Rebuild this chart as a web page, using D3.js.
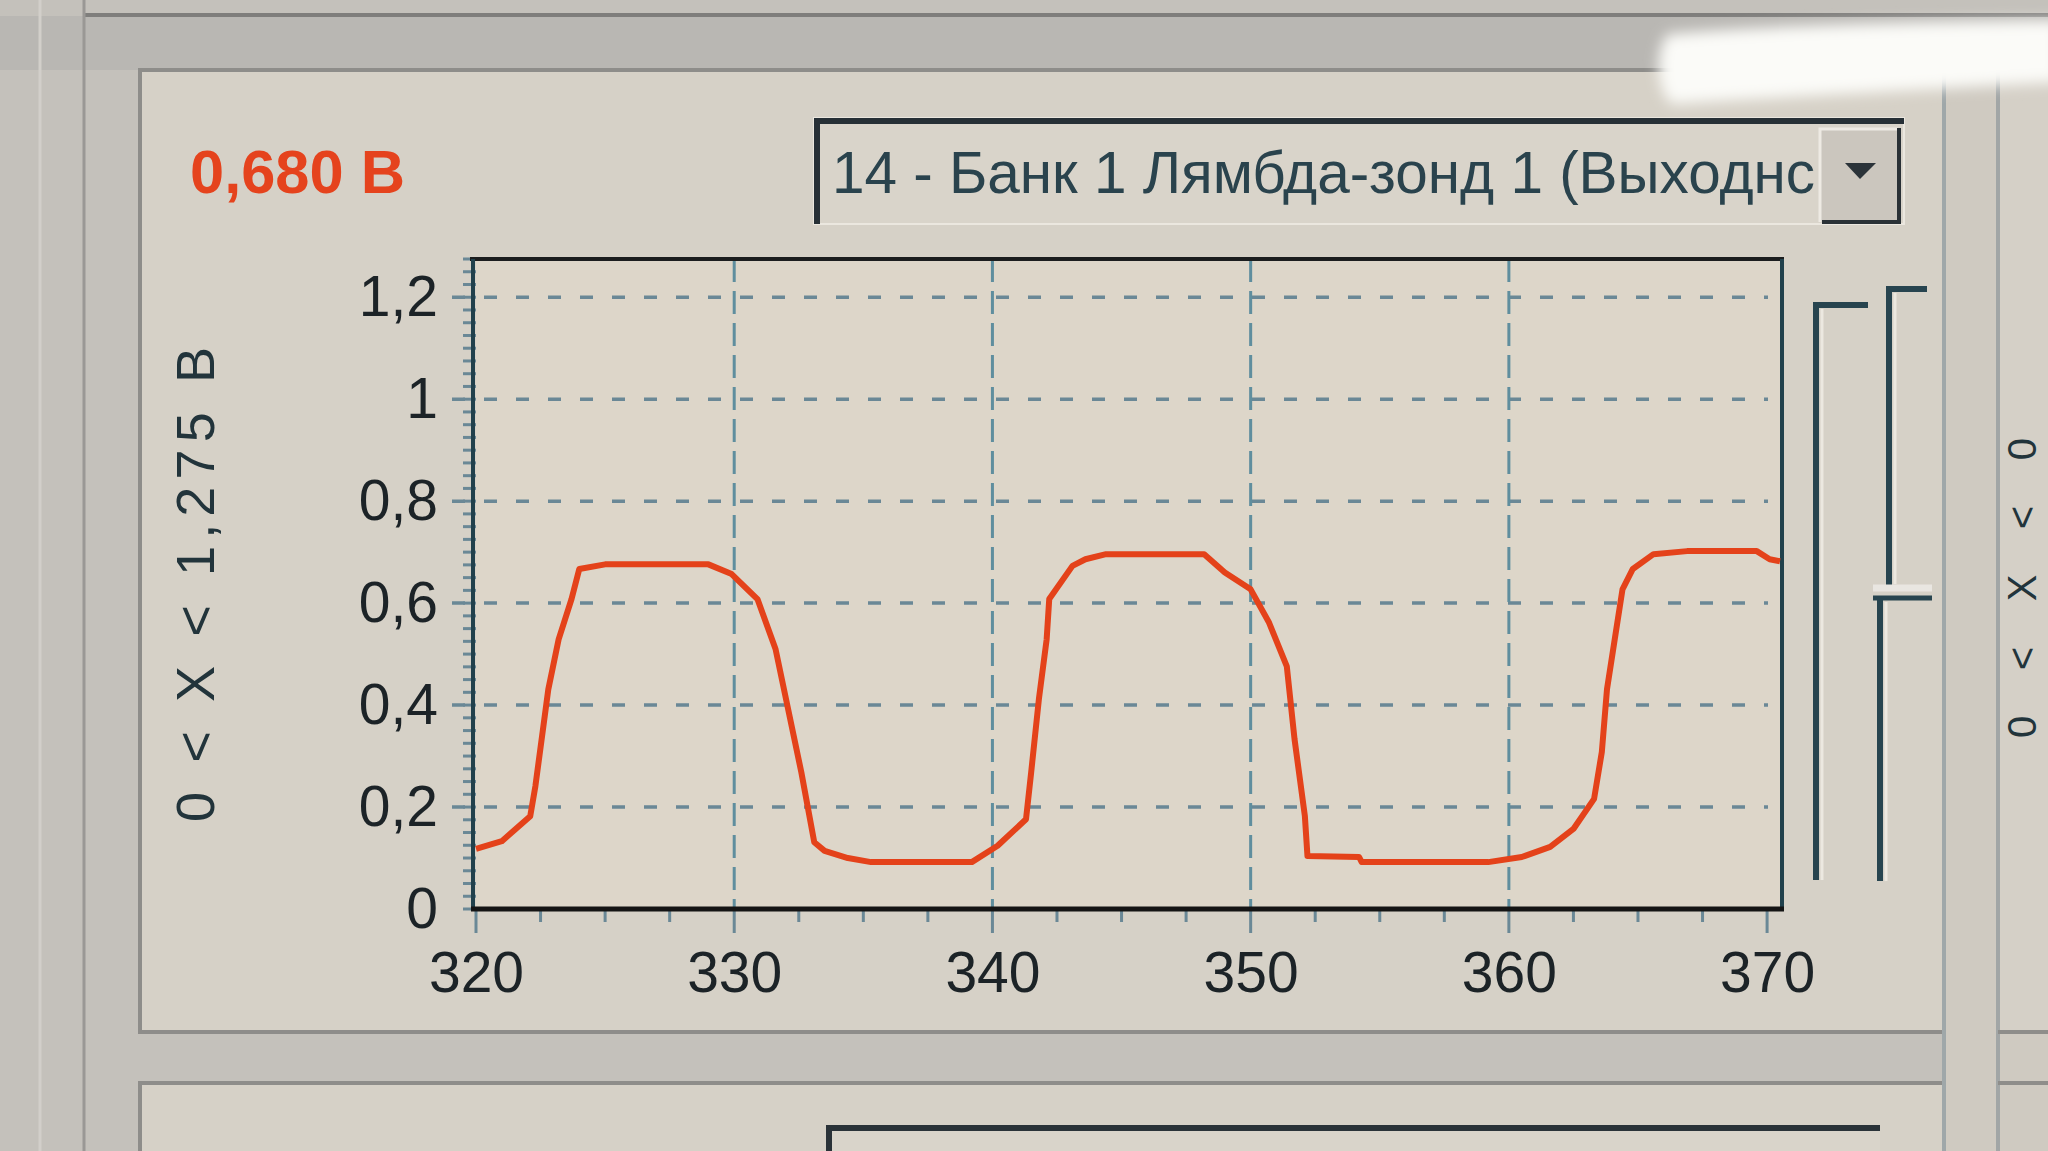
<!DOCTYPE html>
<html>
<head>
<meta charset="utf-8">
<script src="https://cdn.jsdelivr.net/npm/d3@7"></script>
<style>
  html, body { margin: 0; padding: 0; background: #c4c1bb; }
  svg { display: block; }
  text { font-family: "Liberation Sans", Arial, sans-serif; }
</style>
</head>
<body>
<svg id="chart" width="2048" height="1151"></svg>
<script>
// Chart values
const readout = '0,680 В';
const sensorName = '14 - Банк 1 Лямбда-зонд 1 (Выходнс';
const rangeLabel = '0 < X < 1,275 В';
const nextRangeLabel = '0 < X < 0';

const xTicks = [320, 330, 340, 350, 360, 370];
const yTicks = [0, 0.2, 0.4, 0.6, 0.8, 1, 1.2];

// time (x) and sensor voltage (y) samples of the trace
const timeValues = [
  320.0, 321.0, 322.1, 322.3, 322.8, 323.2, 323.7, 324.0, 325.0, 329.0,
  329.9, 330.9, 331.6, 332.6, 333.1, 333.5, 334.4, 335.3, 339.2, 340.2,
  341.3, 341.5, 341.8, 342.1, 342.2, 343.1, 343.6, 344.4, 348.2, 349.0,
  350.0, 350.7, 351.4, 351.7, 352.1, 352.2, 354.2, 354.3, 359.2, 360.5,
  361.6, 362.5, 363.3, 363.6, 363.8, 364.1, 364.4, 364.8, 365.6, 366.9,
  369.6, 370.1, 370.5,
];
const voltageValues = [
  0.118, 0.133, 0.182, 0.241, 0.431, 0.529, 0.608, 0.667, 0.676, 0.676,
  0.657, 0.608, 0.51, 0.268, 0.131, 0.114, 0.10, 0.092, 0.092, 0.124,
  0.176, 0.268, 0.412, 0.529, 0.608, 0.673, 0.686, 0.696, 0.696, 0.66,
  0.627, 0.563, 0.476, 0.333, 0.182, 0.104, 0.102, 0.092, 0.092, 0.102,
  0.122, 0.157, 0.216, 0.308, 0.431, 0.529, 0.627, 0.667, 0.696, 0.702,
  0.702, 0.686, 0.682,
];

const svg = d3.select('#chart');

// decimal comma, as on the screen
const locale = d3.formatLocale({ decimal: ',', thousands: ' ', grouping: [3], currency: ['', ''] });
const fmt = locale.format('.1~f');

// //////////////////////////////////////////////////////////////////////////
// Window chrome around the chart

const chrome = svg.append('g').attr('class', 'chrome');

chrome.append('rect').attr('width', 2048).attr('height', 1151).attr('fill', '#c4c1bb');
chrome.append('rect').attr('x', 0).attr('y', 16).attr('width', 2048).attr('height', 54).attr('fill', '#b9b7b3');
chrome.append('line').attr('x1', 84).attr('x2', 2048).attr('y1', 15).attr('y2', 15)
  .attr('stroke', '#7f7e7c').attr('stroke-width', 4);
chrome.append('line').attr('x1', 40).attr('x2', 40).attr('y1', 0).attr('y2', 1151)
  .attr('stroke', '#d2cfca').attr('stroke-width', 3);
chrome.append('line').attr('x1', 84).attr('x2', 84).attr('y1', 0).attr('y2', 1151)
  .attr('stroke', '#9a9895').attr('stroke-width', 3);

// upper group box (holds the chart)
chrome.append('rect').attr('x', 140).attr('y', 70).attr('width', 1804).attr('height', 962)
  .attr('fill', '#d6d1c7');
chrome.append('path').attr('d', 'M1944,70 H140 V1032 H1944')
  .attr('fill', 'none').attr('stroke', '#8e8d8a').attr('stroke-width', 4);

// lower group box
chrome.append('rect').attr('x', 140).attr('y', 1083).attr('width', 1804).attr('height', 70)
  .attr('fill', '#d6d1c7');
chrome.append('path').attr('d', 'M140,1151 V1083 H1944')
  .attr('fill', 'none').attr('stroke', '#8e8d8a').attr('stroke-width', 4);
chrome.append('rect').attr('x', 829).attr('y', 1127).attr('width', 1051).attr('height', 30)
  .attr('fill', '#d9d4ca');
chrome.append('path').attr('d', 'M829,1151 V1128 H1880')
  .attr('fill', 'none').attr('stroke', '#2a3238').attr('stroke-width', 6);

// right neighbour panel
chrome.append('rect').attr('x', 1944).attr('y', 70).attr('width', 104).attr('height', 1081)
  .attr('fill', '#cfcac1');
chrome.append('rect').attr('x', 1998).attr('y', 70).attr('width', 50).attr('height', 962)
  .attr('fill', '#d5d0c7');
chrome.append('line').attr('x1', 1944).attr('x2', 1944).attr('y1', 70).attr('y2', 1151)
  .attr('stroke', '#9fa7a9').attr('stroke-width', 4);
chrome.append('line').attr('x1', 1998).attr('x2', 1998).attr('y1', 70).attr('y2', 1151)
  .attr('stroke', '#a2a6a6').attr('stroke-width', 4);
chrome.append('line').attr('x1', 1998).attr('x2', 2048).attr('y1', 1032).attr('y2', 1032)
  .attr('stroke', '#8e8d8a').attr('stroke-width', 4);
chrome.append('line').attr('x1', 1998).attr('x2', 2048).attr('y1', 1083).attr('y2', 1083)
  .attr('stroke', '#8e8d8a').attr('stroke-width', 4);

// sensor drop-down
chrome.append('rect').attr('x', 814).attr('y', 118).attr('width', 1090).attr('height', 106)
  .attr('fill', '#d9d4ca').attr('stroke', '#ebe7df').attr('stroke-width', 2);
chrome.append('path').attr('d', 'M817,224 V121 H1904')
  .attr('fill', 'none').attr('stroke', '#273036').attr('stroke-width', 6);
chrome.append('rect').attr('x', 1820).attr('y', 128).attr('width', 80).attr('height', 94)
  .attr('fill', '#cbc6be');
chrome.append('path').attr('d', 'M1820,222 V129 H1898')
  .attr('fill', 'none').attr('stroke', '#eeeae3').attr('stroke-width', 3);
chrome.append('path').attr('d', 'M1822,222 H1899 V128')
  .attr('fill', 'none').attr('stroke', '#2a3136').attr('stroke-width', 4);
chrome.append('path').attr('d', 'M1845,163 L1876,163 L1860,179 Z').attr('fill', '#2b3339');
chrome.append('text').attr('x', 832).attr('y', 193)
  .attr('font-size', 60).attr('fill', '#2a434d')
  .attr('textLength', 983).attr('lengthAdjust', 'spacingAndGlyphs')
  .text(sensorName);

// current value readout
chrome.append('text').attr('x', 190).attr('y', 193)
  .attr('font-size', 62).attr('font-weight', 'bold').attr('fill', '#e5431d')
  .attr('textLength', 215).attr('lengthAdjust', 'spacingAndGlyphs')
  .text(readout);

// range labels, rotated
chrome.append('text')
  .attr('transform', 'translate(214,822) rotate(-90)')
  .attr('font-size', 54).attr('fill', '#22343b')
  .attr('textLength', 475).attr('lengthAdjust', 'spacing')
  .text(rangeLabel);
chrome.append('text')
  .attr('transform', 'translate(2036,738) rotate(-90)')
  .attr('font-size', 40).attr('fill', '#22343b')
  .attr('textLength', 300).attr('lengthAdjust', 'spacing')
  .text(nextRangeLabel);

// two trackbars right of the chart
const dark = '#27444f';
chrome.append('path').attr('d', 'M1868,305 H1816 V880')
  .attr('fill', 'none').attr('stroke', dark).attr('stroke-width', 6);
chrome.append('line').attr('x1', 1822).attr('x2', 1822).attr('y1', 309).attr('y2', 880)
  .attr('stroke', '#ece8e0').attr('stroke-width', 3);
chrome.append('path').attr('d', 'M1927,289 H1889 V586')
  .attr('fill', 'none').attr('stroke', dark).attr('stroke-width', 6);
chrome.append('line').attr('x1', 1895).attr('x2', 1895).attr('y1', 293).attr('y2', 584)
  .attr('stroke', '#ece8e0').attr('stroke-width', 3);
chrome.append('line').attr('x1', 1873).attr('x2', 1932).attr('y1', 588).attr('y2', 588)
  .attr('stroke', '#e9e6e1').attr('stroke-width', 7);
chrome.append('line').attr('x1', 1873).attr('x2', 1932).attr('y1', 598).attr('y2', 598)
  .attr('stroke', dark).attr('stroke-width', 5);
chrome.append('line').attr('x1', 1880).attr('x2', 1880).attr('y1', 600).attr('y2', 881)
  .attr('stroke', dark).attr('stroke-width', 6);
chrome.append('line').attr('x1', 1886).attr('x2', 1886).attr('y1', 602).attr('y2', 881)
  .attr('stroke', '#ece8e0').attr('stroke-width', 3);

// //////////////////////////////////////////////////////////////////////////
// The chart

const plot = { left: 476, right: 1780, top: 259, bottom: 909 };

const x = d3.scaleLinear().domain([320, 370.5]).range([plot.left, plot.right]);
const y = d3.scaleLinear().domain([0, 1.275]).range([plot.bottom, plot.top]);

const chart = svg.append('g').attr('class', 'scope');

chart.append('rect')
  .attr('x', plot.left).attr('y', plot.top)
  .attr('width', plot.right - plot.left).attr('height', plot.bottom - plot.top)
  .attr('fill', '#ddd6c9');

const gridColor = '#6a8896';

// y minor ticks every 0.025
chart.append('g').selectAll('line')
  .data(d3.range(0, 1.2751, 0.025))
  .join('line')
  .attr('x1', plot.left - 13).attr('x2', plot.left)
  .attr('y1', (d) => y(d)).attr('y2', (d) => y(d))
  .attr('stroke', gridColor).attr('stroke-width', 3);

// x minor ticks every 2.5
chart.append('g').selectAll('line')
  .data(d3.range(320, 370.6, 2.5))
  .join('line')
  .attr('x1', (d) => x(d)).attr('x2', (d) => x(d))
  .attr('y1', plot.bottom).attr('y2', (d) => plot.bottom + (d % 10 === 0 ? 24 : 13))
  .attr('stroke', gridColor).attr('stroke-width', 3);

// horizontal dashed grid
chart.append('g').selectAll('line')
  .data(yTicks.filter((d) => d > 0))
  .join('line')
  .attr('x1', plot.left - 24).attr('x2', plot.right - 12)
  .attr('y1', (d) => y(d)).attr('y2', (d) => y(d))
  .attr('stroke', gridColor).attr('stroke-width', 3.5)
  .attr('stroke-dasharray', '13 19');

// vertical dashed grid
chart.append('g').selectAll('line')
  .data(xTicks.filter((d) => d > 320 && d < 370))
  .join('line')
  .attr('x1', (d) => x(d)).attr('x2', (d) => x(d))
  .attr('y1', plot.top).attr('y2', plot.bottom)
  .attr('stroke', '#5f8e9e').attr('stroke-width', 3)
  .attr('stroke-dasharray', '23 9');

// frame
chart.append('line').attr('x1', plot.left - 6).attr('x2', plot.right + 4)
  .attr('y1', plot.top).attr('y2', plot.top)
  .attr('stroke', '#1b1d1e').attr('stroke-width', 4);
chart.append('line').attr('x1', plot.left - 3).attr('x2', plot.left - 3)
  .attr('y1', plot.top).attr('y2', plot.bottom)
  .attr('stroke', '#21414c').attr('stroke-width', 4);
chart.append('line').attr('x1', plot.right + 2).attr('x2', plot.right + 2)
  .attr('y1', plot.top).attr('y2', plot.bottom)
  .attr('stroke', '#21414c').attr('stroke-width', 4);

// trace
const trace = timeValues.map((t, i) => ({ t, v: voltageValues[i] }));
chart.append('path')
  .datum(trace)
  .attr('fill', 'none')
  .attr('stroke', '#e4421a')
  .attr('stroke-width', 6)
  .attr('stroke-linejoin', 'round')
  .attr('d', d3.line().x((d) => x(d.t)).y((d) => y(d.v)));

chart.append('line').attr('x1', plot.left - 5).attr('x2', plot.right + 4)
  .attr('y1', plot.bottom).attr('y2', plot.bottom)
  .attr('stroke', '#141414').attr('stroke-width', 5);

// axes labels
const yAxis = chart.append('g')
  .attr('transform', `translate(${plot.left},0)`)
  .call(d3.axisLeft(y).tickValues(yTicks).tickFormat(fmt).tickSize(0).tickPadding(38));

const xAxis = chart.append('g')
  .attr('transform', `translate(0,${plot.bottom})`)
  .call(d3.axisBottom(x).tickValues(xTicks).tickFormat(d3.format('d')).tickSize(0).tickPadding(43));

[yAxis, xAxis].forEach((axis) => {
  axis.select('.domain').remove();
  axis.selectAll('text')
    .attr('font-family', '"Liberation Sans", Arial, sans-serif')
    .attr('font-size', 57)
    .attr('fill', '#1c2327');
});

// screen glare in the photo
const defs = svg.append('defs');
defs.append('filter').attr('id', 'glare').attr('x', '-20%').attr('y', '-50%')
  .attr('width', '140%').attr('height', '200%')
  .append('feGaussianBlur').attr('stdDeviation', 7);
svg.append('path')
  .attr('d', 'M1668,34 C1760,26 1900,22 2060,20 L2060,82 C1950,88 1800,96 1672,104 C1655,90 1655,48 1668,34 Z')
  .attr('fill', '#fbfbf8')
  .attr('filter', 'url(#glare)');
</script>
</body>
</html>
